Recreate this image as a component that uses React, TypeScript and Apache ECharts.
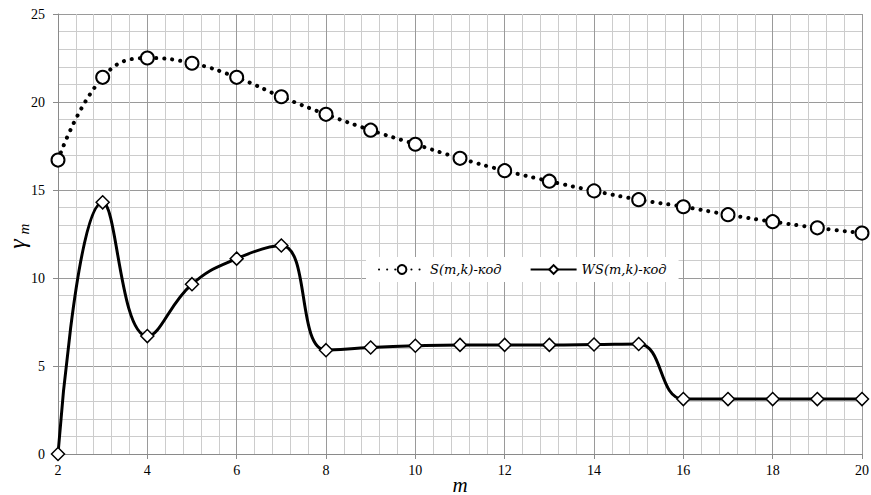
import React, { useEffect, useRef } from "react";
import * as echarts from "echarts";

const mValues = [2, 3, 4, 5, 6, 7, 8, 9, 10, 11, 12, 13, 14, 15, 16, 17, 18, 19, 20];
const sCode = [16.7, 21.4, 22.5, 22.2, 21.4, 20.3, 19.3, 18.4, 17.6, 16.8, 16.1, 15.5, 14.95, 14.45, 14.05, 13.6, 13.2, 12.85, 12.55];
const wsCode = [0, 14.3, 6.7, 9.65, 11.1, 11.85, 5.9, 6.05, 6.15, 6.2, 6.2, 6.2, 6.22, 6.25, 3.12, 3.12, 3.12, 3.12, 3.12];
const seriesNames = ["S(m,k)-код", "WS(m,k)-код"];
const xTicks = [2, 4, 6, 8, 10, 12, 14, 16, 18, 20];
const yTicks = [0, 5, 10, 15, 20, 25];
const xAxisName = "m";
const yAxisSymbol = "γ";
const yAxisSubscript = "m";

export default function App() {
  const ref = useRef<HTMLDivElement>(null);
  useEffect(() => {
    if (!ref.current) return;
    const chart = echarts.init(ref.current, null, { renderer: "svg" });
    const font = "Liberation Serif";
    chart.setOption({
      animation: false,
      backgroundColor: "#fff",
      grid: { left: 58, right: 9, top: 14, bottom: 41, containLabel: false, outerBoundsMode: "none" },
      legend: {
        left: 366,
        top: 257,
        backgroundColor: "#fff",
        padding: [6, 12, 6, 12],
        itemWidth: 46,
        itemHeight: 11,
        itemGap: 28,
        textStyle: { fontFamily: "DejaVu Serif", fontStyle: "italic", fontSize: 13, color: "#000" },
        data: seriesNames,
      },
      xAxis: {
        type: "value",
        min: 2,
        max: 20,
        interval: 2,
        axisLine: { show: true, lineStyle: { color: "#8a8a8a", width: 1 } },
        axisTick: { show: true, length: 5, lineStyle: { color: "#8a8a8a" } },
        axisLabel: { show: false },
        splitLine: { show: true, lineStyle: { color: "#9a9a9a", width: 1 } },
        minorTick: { show: false, splitNumber: 5 },
        minorSplitLine: { show: true, lineStyle: { color: "#cccccc", width: 1 } },
      },
      yAxis: {
        type: "value",
        min: 0,
        max: 25,
        interval: 5,
        axisLine: { show: true, lineStyle: { color: "#8a8a8a", width: 1 } },
        axisTick: { show: true, length: 5, lineStyle: { color: "#8a8a8a" } },
        axisLabel: { show: false },
        splitLine: { show: true, lineStyle: { color: "#9a9a9a", width: 1 } },
        minorTick: { show: false, splitNumber: 5 },
        minorSplitLine: { show: true, lineStyle: { color: "#cccccc", width: 1 } },
      },
      series: [
        {
          name: seriesNames[0],
          type: "line",
          data: mValues.map((m, i) => [m, sCode[i]]),
          smooth: 0.45,
          symbol: "circle",
          symbolSize: 13,
          itemStyle: { color: "#fff", borderColor: "#000", borderWidth: 2 },
          lineStyle: { color: "#000", width: 4, type: [0.1, 8], cap: "round" },
          z: 3,
        },
        {
          name: seriesNames[1],
          type: "line",
          data: mValues.map((m, i) => [m, wsCode[i]]),
          smooth: 0.45,
          symbol: "diamond",
          symbolSize: 13,
          itemStyle: { color: "#fff", borderColor: "#000", borderWidth: 1.5 },
          lineStyle: { color: "#000", width: 3 },
          z: 3,
        },
      ],
    });

    // tick labels and axis titles, placed through the axes' own scales
    const origin = chart.convertToPixel({ gridIndex: 0 }, [2, 0]) as number[];
    const xEnd = chart.convertToPixel({ gridIndex: 0 }, [20, 0]) as number[];
    const yTop = chart.convertToPixel({ gridIndex: 0 }, [2, 25]) as number[];
    const labelStyle = { fontFamily: font, fontSize: 14, fill: "#000" };
    const graphics: any[] = [];
    xTicks.forEach((v) => {
      const p = chart.convertToPixel({ gridIndex: 0 }, [v, 0]) as number[];
      graphics.push({
        type: "text",
        x: p[0],
        y: p[1] + 16,
        style: { ...labelStyle, text: String(v), align: "center", verticalAlign: "middle" },
      });
    });
    yTicks.forEach((v) => {
      const p = chart.convertToPixel({ gridIndex: 0 }, [2, v]) as number[];
      graphics.push({
        type: "text",
        x: p[0] - 13,
        y: p[1],
        style: { ...labelStyle, text: String(v), align: "right", verticalAlign: "middle" },
      });
    });
    graphics.push({
      type: "text",
      x: (origin[0] + xEnd[0]) / 2,
      y: origin[1] + 31,
      style: { text: xAxisName, fontFamily: font, fontStyle: "italic", fontSize: 21, fill: "#000", align: "center", verticalAlign: "middle" },
    });
    const yMid = (origin[1] + yTop[1]) / 2;
    graphics.push({
      type: "text",
      x: 17,
      y: yMid + 10,
      rotation: Math.PI / 2,
      style: { text: yAxisSymbol, fontFamily: font, fontStyle: "italic", fontSize: 24, fill: "#000", align: "center", verticalAlign: "middle" },
    });
    graphics.push({
      type: "text",
      x: 24,
      y: yMid - 5,
      rotation: Math.PI / 2,
      style: { text: yAxisSubscript, fontFamily: font, fontStyle: "italic", fontSize: 15, fill: "#000", align: "center", verticalAlign: "middle" },
    });
    chart.setOption({ graphic: graphics });

    return () => chart.dispose();
  }, []);
  return <div ref={ref} style={{ position: "absolute", left: 0, top: 0, width: 871, height: 495 }} />;
}
